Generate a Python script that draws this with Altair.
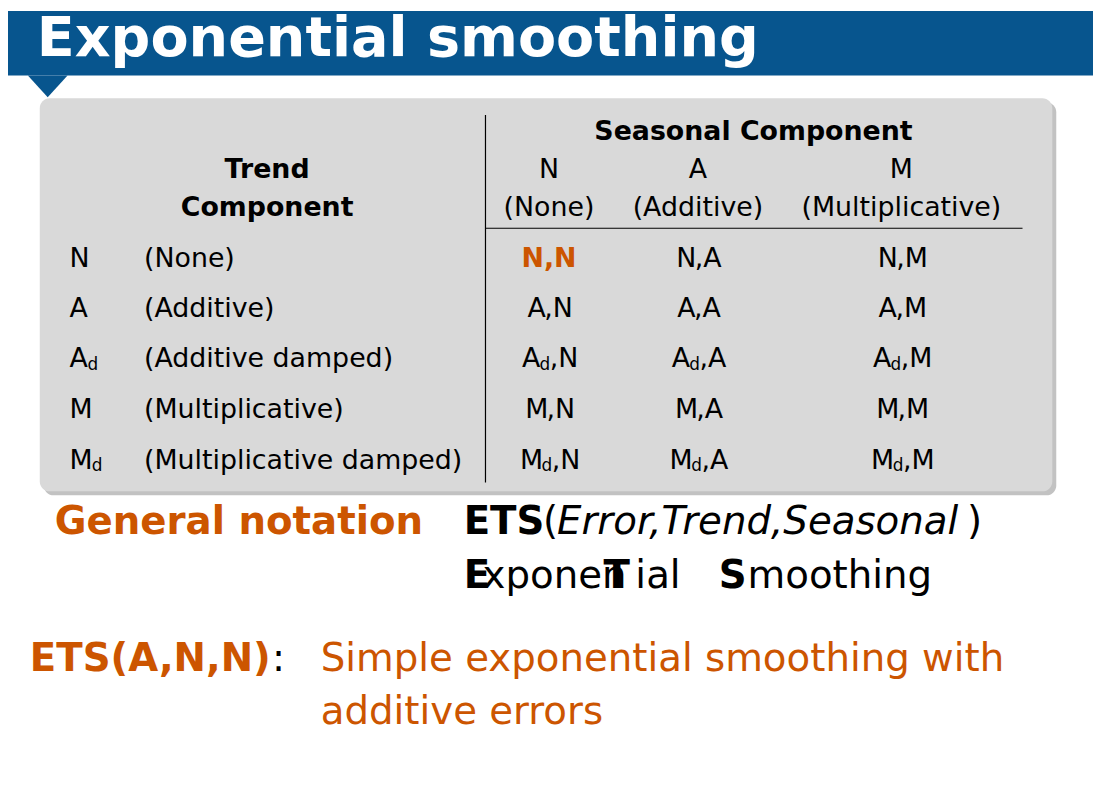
import altair as alt
import pandas as pd

BLUE = "#07558E"
ORANGE = "#CC5500"
FONT = "DejaVu Sans"

# table content
col_keys = ["N", "A", "M"]
col_names = ["(None)", "(Additive)", "(Multiplicative)"]
row_keys = ["N", "A", "Ad", "M", "Md"]
row_names = ["(None)", "(Additive)", "(Additive damped)", "(Multiplicative)", "(Multiplicative damped)"]

# layout (pixel positions on the slide)
col_x = [553, 703, 908]
row_y = [258, 308, 359, 410, 461]

X = alt.Scale(domain=[8, 1101])
Y = alt.Scale(domain=[8, 794], reverse=True)

TS = 27   # table font size
BS = 39   # body font size
SS = 17   # subscript size
# approximate glyph widths in em (as rendered)
W = {"A": 0.63, "M": 0.79, "N": 0.69, ",": 0.29, "d": 0.58}


def txt(rows, size=TS, color="black", weight="normal", style="normal", align="left"):
    df = pd.DataFrame(rows, columns=["x", "y", "t"])
    return alt.Chart(df).mark_text(
        font=FONT, fontSize=size, color=color, fontWeight=weight, fontStyle=style,
        align=align, baseline="middle"
    ).encode(x=alt.X("x:Q", scale=X, axis=None), y=alt.Y("y:Q", scale=Y, axis=None), text="t:N")


def box(rows, color, radius=0, opacity=1.0):
    df = pd.DataFrame(rows, columns=["x", "x2", "y", "y2"])
    return alt.Chart(df).mark_rect(color=color, cornerRadius=radius, opacity=opacity).encode(
        x=alt.X("x:Q", scale=X, axis=None), x2="x2:Q",
        y=alt.Y("y:Q", scale=Y, axis=None), y2="y2:Q")


def rule(rows):
    df = pd.DataFrame(rows, columns=["x", "x2", "y", "y2"])
    return alt.Chart(df).mark_rule(color="black", strokeWidth=1.2).encode(
        x=alt.X("x:Q", scale=X, axis=None), x2="x2:Q",
        y=alt.Y("y:Q", scale=Y, axis=None), y2="y2:Q")


layers = []
layers.append(box([[8, 1101, 8, 73]], BLUE))
tri = pd.DataFrame({"x": [48], "y": [84]})
layers.append(alt.Chart(tri).mark_point(
    shape="M-1,-0.55L1,-0.55L0,0.55Z", size=1600, filled=True, color=BLUE, opacity=1
).encode(x=alt.X("x:Q", scale=X, axis=None), y=alt.Y("y:Q", scale=Y, axis=None)))
layers.append(txt([[37, 36, "Exponential smoothing"]], size=56, color="white", weight="bold"))

layers.append(box([[44, 1064, 100, 496]], "#9a9a9a", radius=10, opacity=0.6))
layers.append(box([[40, 1060, 96, 492]], "#D9D9D9", radius=10))
layers.append(rule([[489, 489, 113, 483], [489, 1030, 227, 227]]))

layers.append(txt([[759, 130, "Seasonal Component"], [269, 168, "Trend"], [269, 207, "Component"]],
                  weight="bold", align="center"))
layers.append(txt([[col_x[i], 168, k] for i, k in enumerate(col_keys)] +
                  [[col_x[i], 207, n] for i, n in enumerate(col_names)], align="center"))

# row labels
main, sub = [], []
for j, k in enumerate(row_keys):
    main.append([70, row_y[j], k[0]])
    if len(k) > 1:
        sub.append([70 + W[k[0]] * TS + 1, row_y[j] + 6, "d"])
    main.append([145, row_y[j], row_names[j]])

# cells
orange_cells = []
for j, rk in enumerate(row_keys):
    for i, ck in enumerate(col_keys):
        if j == 0 and i == 0:
            orange_cells.append([col_x[i], row_y[j], "N,N"])
            continue
        w_head = W[rk[0]] * TS
        w_sub = W["d"] * SS + 1 if len(rk) > 1 else 0
        w_tail = (W[","] + W[ck]) * TS
        x0 = col_x[i] - (w_head + w_sub + w_tail) / 2
        main.append([x0, row_y[j], rk[0]])
        if w_sub:
            sub.append([x0 + w_head + 0.5, row_y[j] + 6, "d"])
        main.append([x0 + w_head + w_sub, row_y[j], "," + ck])

layers.append(txt(main))
layers.append(txt(sub, size=SS))
layers.append(txt(orange_cells, color=ORANGE, weight="bold", align="center"))

# notation lines
layers.append(txt([[55, 523, "General notation"], [30, 661, "ETS(A,N,N)"]],
                  size=BS, color=ORANGE, weight="bold"))
layers.append(txt([[467, 523, "ETS"], [467, 577, "E"], [608, 577, "T"], [724, 577, "S"]],
                  size=BS, weight="bold"))
layers.append(txt([[547, 523, "("], [974, 523, ")"], [486, 577, "xponen"], [640, 577, "ial"],
                   [753, 577, "moothing"], [274, 661, ":"]], size=BS))
layers.append(txt([[561, 523, "Error,Trend,Seasonal"]], size=BS, style="italic"))
layers.append(txt([[323, 661, "Simple exponential smoothing with"], [323, 714, "additive errors"]],
                  size=BS, color=ORANGE))

chart = alt.layer(*layers).properties(
    width=1093, height=786, padding=0, autosize=alt.AutoSizeParams(type="none"),
    background="white"
).configure_view(stroke=None)

chart.save("out.html", embed_options={"renderer": "svg", "actions": False})
